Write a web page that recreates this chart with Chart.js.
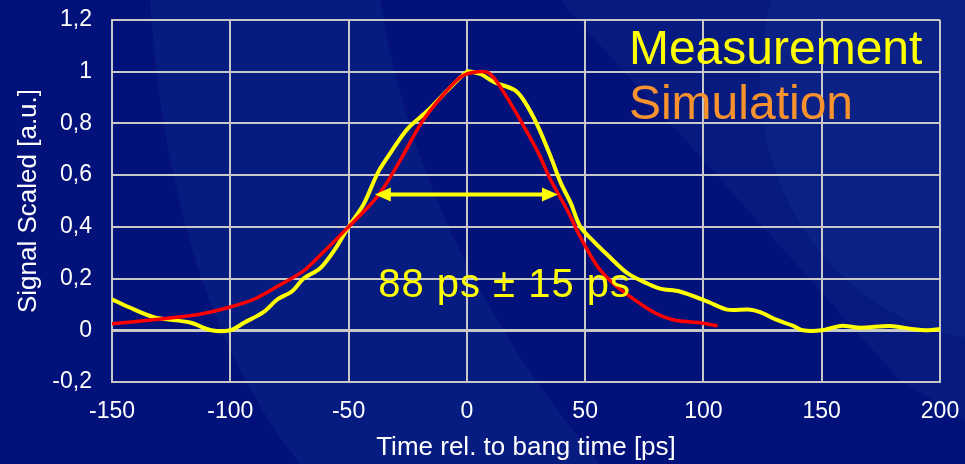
<!DOCTYPE html>
<html>
<head>
<meta charset="utf-8">
<script src="https://cdn.jsdelivr.net/npm/chart.js@4/dist/chart.umd.min.js"></script>
<style>
    html, body { margin: 0; padding: 0; background: #02127a; }
    #wrap { width: 965px; height: 464px; }
</style>
</head>
<body>
<div id="wrap"><canvas id="pulseChart"></canvas></div>
<script>
const measTime = [-150, -143, -132, -117, -108, -100, -94, -86, -80, -74, -69, -62, -56, -50, -43.5, -37.6, -32, -25, -16.5, -8, 0, 2, 6, 11.4, 20, 24, 30, 35.5, 39.7, 44, 48, 54, 59.6, 68, 76.5, 82, 90, 102, 110, 119, 124, 131, 138, 142, 150, 158, 166.5, 179, 188, 195, 200];
const measSignal = [0.12, 0.09, 0.05, 0.03, 0.0, 0.0, 0.03, 0.07, 0.12, 0.15, 0.2, 0.24, 0.31, 0.4, 0.49, 0.61, 0.69, 0.78, 0.85, 0.93, 1.0, 1.0, 0.99, 0.96, 0.93, 0.89, 0.79, 0.67, 0.57, 0.49, 0.4, 0.34, 0.29, 0.22, 0.18, 0.16, 0.15, 0.11, 0.08, 0.08, 0.07, 0.04, 0.017, 0.0, 0.0, 0.017, 0.01, 0.017, 0.005, 0.0, 0.005];

// simulation (red)
const simTime = [-150, -133.5, -114, -100, -90, -80, -69, -62, -50, -37.6, -28, -19.4, -11, -2.5, 4.6, 10, 17, 24, 30, 35.5, 42.7, 48, 55, 62, 70.6, 79, 87.5, 97.6, 106];
const simSignal = [0.025, 0.04, 0.06, 0.09, 0.12, 0.17, 0.23, 0.29, 0.4, 0.52, 0.66, 0.8, 0.9, 0.98, 1.0, 0.99, 0.9, 0.79, 0.69, 0.58, 0.46, 0.36, 0.25, 0.18, 0.12, 0.07, 0.04, 0.03, 0.017];

const xTicks = [-150, -100, -50, 0, 50, 100, 150, 200];
const yTicks = [-0.2, 0, 0.2, 0.4, 0.6, 0.8, 1, 1.2];

// FWHM arrow + label
const fwhmFrom = -38.9;
const fwhmTo = 38.5;
const fwhmLevel = 0.525;
const fwhmText = '88 ps ± 15 ps';

const legendItems = ['Measurement', 'Simulation'];
const legendColors = ['#ffff00', '#f8922e'];

const FONT = '"Liberation Sans", Arial, sans-serif';

function toPoints(xs, ys) {
    return xs.map((x, i) => ({ x: x, y: ys[i] }));
}

function fmtComma(v) {
    return String(Math.round(v * 10) / 10).replace('.', ',');
}

// background swooshes of the slide template
const slideBackground = {
    id: 'slideBackground',
    beforeDraw(chart) {
        const c = chart.ctx;
        const w = chart.width, h = chart.height;
        c.save();
        c.fillStyle = '#02127a';
        c.fillRect(0, 0, w, h);

        c.fillStyle = 'rgba(40, 80, 170, 0.16)';
        c.beginPath();
        c.moveTo(150, 0);
        c.quadraticCurveTo(170, 300, 300, h);
        c.lineTo(600, h);
        c.quadraticCurveTo(420, 250, 380, 0);
        c.closePath();
        c.fill();

        c.fillStyle = 'rgba(40, 80, 170, 0.14)';
        c.beginPath();
        c.moveTo(560, 0);
        c.lineTo(965, 0);
        c.lineTo(965, 420);
        c.lineTo(900, 380);
        c.lineTo(560, 0);
        c.closePath();
        c.fill();

        c.fillStyle = 'rgba(40, 80, 170, 0.14)';
        c.beginPath();
        c.ellipse(1000, 80, 240, 260, 0, 0, Math.PI * 2);
        c.fill();
        c.restore();
    },
};

// arrow, width label and the text legend
const annotations = {
    id: 'annotations',
    afterDatasetsDraw(chart) {
        const c = chart.ctx;
        const xs = chart.scales.x, ys = chart.scales.y;
        const x1 = xs.getPixelForValue(fwhmFrom);
        const x2 = xs.getPixelForValue(fwhmTo);
        const y = ys.getPixelForValue(fwhmLevel);
        const head = 16, half = 7;

        c.save();
        c.strokeStyle = '#ffff00';
        c.fillStyle = '#ffff00';
        c.lineWidth = 4;
        c.beginPath();
        c.moveTo(x1 + head - 2, y);
        c.lineTo(x2 - head + 2, y);
        c.stroke();
        c.beginPath();
        c.moveTo(x1, y);
        c.lineTo(x1 + head, y - half);
        c.lineTo(x1 + head, y + half);
        c.closePath();
        c.fill();
        c.beginPath();
        c.moveTo(x2, y);
        c.lineTo(x2 - head, y - half);
        c.lineTo(x2 - head, y + half);
        c.closePath();
        c.fill();

        c.font = '40px ' + FONT;
        c.letterSpacing = '1px';
        c.textBaseline = 'alphabetic';
        c.textAlign = 'left';
        c.fillText(fwhmText, xs.getPixelForValue(-37.5), ys.getPixelForValue(0.13));
        c.letterSpacing = '0px';

        c.font = '48px ' + FONT;
        const lx = xs.getPixelForValue(68.5);
        legendItems.forEach((label, i) => {
            c.fillStyle = legendColors[i];
            c.fillText(label, lx, ys.getPixelForValue(1.028 - i * 0.212));
        });
        c.restore();
    },
};

new Chart(document.getElementById('pulseChart'), {
    type: 'line',
    data: {
        datasets: [
            {
                label: 'Simulation',
                data: toPoints(simTime, simSignal),
                borderColor: '#ff0000',
                borderWidth: 3.5,
                pointRadius: 0,
                tension: 0.3,
            },
            {
                label: 'Measurement',
                data: toPoints(measTime, measSignal),
                borderColor: '#ffff00',
                borderWidth: 4,
                pointRadius: 0,
                tension: 0.3,
            },
        ],
    },
    options: {
        responsive: true,
        maintainAspectRatio: false,
        animation: false,
        layout: {
            padding: { left: 0, right: 25, top: 20, bottom: 0 },
        },
        plugins: {
            legend: { display: false },
            tooltip: { enabled: false },
        },
        scales: {
            x: {
                type: 'linear',
                min: -150,
                max: 200,
                afterBuildTicks: (axis) => {
                    axis.ticks = xTicks.map((v) => ({ value: v }));
                },
                afterFit: (axis) => {
                    axis.height = 82;
                    // layout padding alone decides the plot edges
                    axis.paddingLeft = 0;
                    axis.paddingRight = 0;
                },
                grid: { color: '#c8c8c8', lineWidth: 2, drawTicks: false },
                border: { color: '#c8c8c8', width: 2 },
                ticks: {
                    color: '#ffffff',
                    font: { family: FONT, size: 23 },
                    padding: 16,
                    maxRotation: 0,
                },
                title: {
                    display: true,
                    text: 'Time rel. to bang time [ps]',
                    color: '#ffffff',
                    font: { family: FONT, size: 26 },
                    padding: { top: 4, bottom: 1 },
                },
            },
            y: {
                min: -0.2,
                max: 1.2,
                afterBuildTicks: (axis) => {
                    axis.ticks = yTicks.map((v) => ({ value: v }));
                },
                afterFit: (axis) => {
                    axis.width = 112;
                    axis.paddingTop = 0;
                    axis.paddingBottom = 0;
                },
                grid: {
                    color: '#c8c8c8',
                    lineWidth: (ctx) => (ctx.tick && ctx.tick.value === 0 ? 3 : 2),
                    drawTicks: false,
                },
                border: { color: '#c8c8c8', width: 2 },
                ticks: {
                    color: '#ffffff',
                    font: { family: FONT, size: 23 },
                    padding: 20,
                    callback: (v) => fmtComma(v),
                },
                title: {
                    display: true,
                    text: 'Signal Scaled [a.u.]',
                    color: '#ffffff',
                    font: { family: FONT, size: 26 },
                    padding: { top: 13, bottom: 0 },
                },
            },
        },
    },
    plugins: [slideBackground, annotations],
});
</script>
</body>
</html>
